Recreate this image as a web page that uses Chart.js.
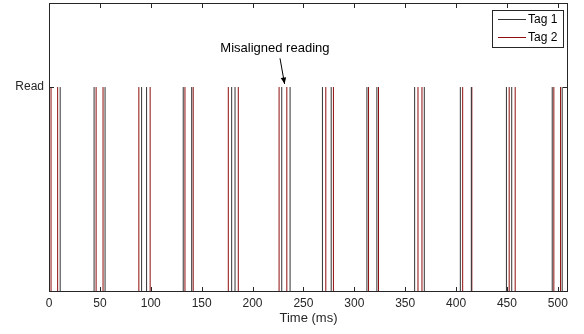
<!DOCTYPE html>
<html>
<head>
<meta charset="utf-8">
<script src="https://cdn.jsdelivr.net/npm/chart.js@4"></script>
<style>
  html, body { margin: 0; padding: 0; background: #fff; }
  #wrap { width: 584px; height: 334px; }
</style>
</head>
<body>
<div id="wrap"><canvas id="c" width="584" height="334"></canvas></div>
<script>
// read times (ms), two readings per tag roughly every 45 ms
const tag1Times = [0.5, 11, 44.3, 55.1, 91, 95.9, 131.9, 140.2, 179.5, 182.8, 228.7, 236.9,
  268.7, 277.3, 312.4, 322.2, 359.3, 368.8, 404.2, 415, 449.5, 454.7, 494.5, 504.3]
const tag2Times = [2, 8.5, 46.3, 53.1, 88.3, 99.4, 133.6, 141.7, 176.2, 186, 226.1, 233.7,
  272, 279.5, 314, 323.8, 362.6, 366.5, 406.5, 415.5, 452.2, 458.1, 496.1, 502.7]
const xTicks = [0, 50, 100, 150, 200, 250, 300, 350, 400, 450, 500]
const yTickLabels = ['Read']
const seriesNames = ['Tag 1', 'Tag 2']

const FONT = 'Liberation Sans, Arial, Helvetica, sans-serif'

// each reading is a vertical spike from 0 up to 1
const spikes = (times) => {
  const pts = []
  times.forEach((t) => {
    pts.push({ x: t, y: 0 }, { x: t, y: 1 }, { x: t, y: null })
  })
  return pts
}

const colors = ['#333333', '#8f0d0d']

// box, inward ticks, legend and annotation, matlab style
const decorations = {
  id: 'decorations',
  afterDraw (chart) {
    const { ctx, chartArea: a, scales } = chart
    const xs = scales.x
    const ys = scales.y
    ctx.save()
    ctx.strokeStyle = '#262626'
    ctx.lineWidth = 1
    ctx.strokeRect(Math.round(a.left) + 0.5, Math.round(a.top) + 0.5,
      Math.round(a.right - a.left) - 1, Math.round(a.bottom - a.top) - 1)

    ctx.beginPath()
    xTicks.forEach((v) => {
      const px = Math.round(xs.getPixelForValue(v)) + 0.5
      ctx.moveTo(px, a.bottom)
      ctx.lineTo(px, a.bottom - 5)
      ctx.moveTo(px, a.top)
      ctx.lineTo(px, a.top + 5)
    })
    const py = Math.round(ys.getPixelForValue(1)) + 0.5
    ctx.moveTo(a.left, py)
    ctx.lineTo(a.left + 5, py)
    ctx.moveTo(a.right, py)
    ctx.lineTo(a.right - 5, py)
    ctx.stroke()

    // legend
    const lx = 492
    const ly = 10
    ctx.fillStyle = '#fff'
    ctx.fillRect(lx, ly, 71, 37)
    ctx.strokeStyle = '#262626'
    ctx.strokeRect(lx + 0.5, ly + 0.5, 71, 37)
    ctx.font = '12px ' + FONT
    ctx.textBaseline = 'middle'
    ctx.textAlign = 'left'
    seriesNames.forEach((name, i) => {
      const yy = ly + 9.5 + i * 18
      ctx.strokeStyle = colors[i]
      ctx.beginPath()
      ctx.moveTo(lx + 6, yy)
      ctx.lineTo(lx + 34, yy)
      ctx.stroke()
      ctx.fillStyle = '#000'
      ctx.fillText(name, lx + 36, yy)
    })

    // annotation
    const tx = xs.getPixelForValue(222)
    const ty = ys.getPixelForValue(1.19)
    ctx.font = '13px ' + FONT
    ctx.textAlign = 'center'
    ctx.fillStyle = '#000'
    ctx.fillText('Misaligned reading', tx, ty)
    const x0 = xs.getPixelForValue(227)
    const y0 = ys.getPixelForValue(1.14)
    const x1 = xs.getPixelForValue(231.5)
    const y1 = ys.getPixelForValue(1.015)
    ctx.strokeStyle = '#000'
    ctx.beginPath()
    ctx.moveTo(x0, y0)
    ctx.lineTo(x1, y1)
    ctx.stroke()
    const ang = Math.atan2(y1 - y0, x1 - x0)
    ctx.beginPath()
    ctx.moveTo(x1, y1)
    ctx.lineTo(x1 - 7 * Math.cos(ang - 0.4), y1 - 7 * Math.sin(ang - 0.4))
    ctx.lineTo(x1 - 7 * Math.cos(ang + 0.4), y1 - 7 * Math.sin(ang + 0.4))
    ctx.closePath()
    ctx.fillStyle = '#000'
    ctx.fill()
    ctx.restore()
  }
}

new Chart(document.getElementById('c'), {
  type: 'line',
  data: {
    datasets: [
      { label: seriesNames[0], data: spikes(tag1Times), borderColor: colors[0], borderWidth: 1, pointRadius: 0, spanGaps: false },
      { label: seriesNames[1], data: spikes(tag2Times), borderColor: colors[1], borderWidth: 1, pointRadius: 0, spanGaps: false }
    ]
  },
  options: {
    responsive: false,
    animation: false,
    layout: { padding: { top: 3, right: 16, left: 0, bottom: 0 } },
    plugins: { legend: { display: false }, tooltip: { enabled: false } },
    scales: {
      x: {
        type: 'linear',
        min: 0,
        max: 510,
        afterBuildTicks: (scale) => { scale.ticks = xTicks.map((v) => ({ value: v })) },
        afterFit: (scale) => { scale.height = 42; scale.paddingLeft = 0; scale.paddingRight = 0 },
        ticks: { font: { family: FONT, size: 12 }, color: '#262626', padding: 4, maxRotation: 0 },
        grid: { display: false, drawTicks: false },
        border: { display: false },
        title: { display: true, text: 'Time (ms)', font: { family: FONT, size: 13 }, color: '#262626', padding: { top: 0, bottom: 8 } }
      },
      y: {
        type: 'linear',
        min: 0,
        max: 1.41,
        afterBuildTicks: (scale) => { scale.ticks = [{ value: 1 }] },
        afterFit: (scale) => { scale.width = 49; scale.paddingTop = 0; scale.paddingBottom = 0 },
        ticks: { font: { family: FONT, size: 12 }, color: '#262626', padding: 5, callback: () => yTickLabels[0] },
        grid: { display: false, drawTicks: false },
        border: { display: false }
      }
    }
  },
  plugins: [decorations]
})
</script>
</body>
</html>
